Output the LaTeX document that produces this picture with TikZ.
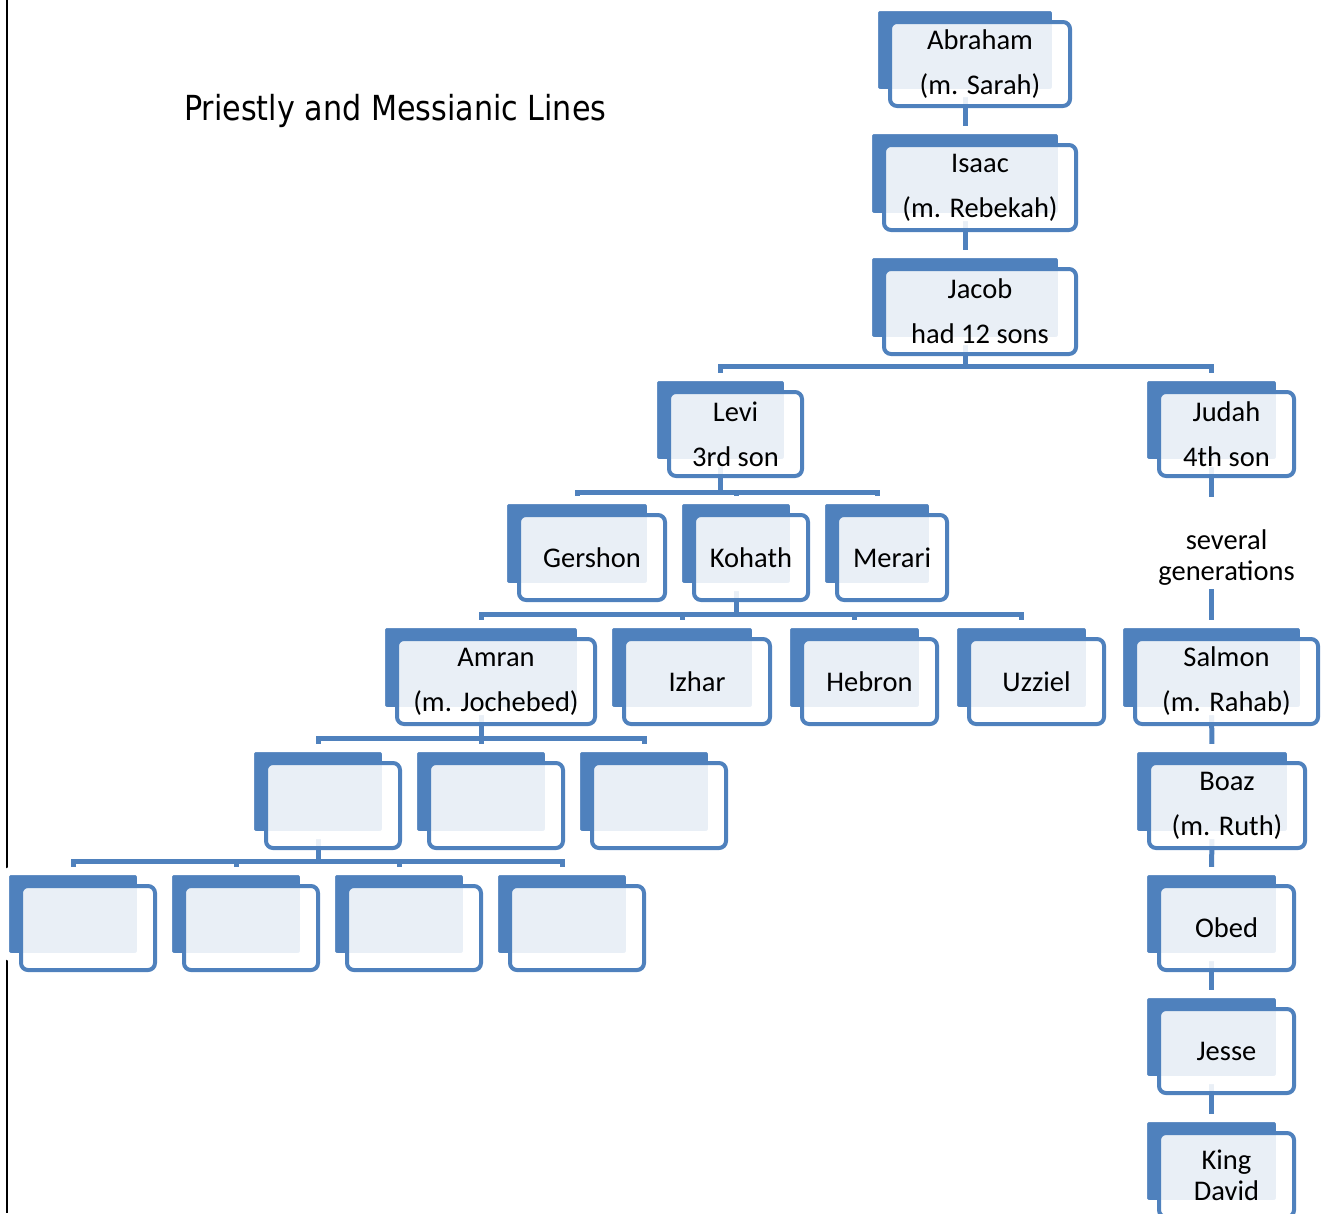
\documentclass[tikz,border=0pt]{standalone}
\usepackage{fontspec}
\setmainfont{Carlito}
\newfontfamily\titlefont{DejaVu Sans}
\usetikzlibrary{calc}
\definecolor{sblue}{HTML}{4F81BD}
\pgfdeclarelayer{bg}
\pgfsetlayers{bg,main}
\tikzset{
  backbox/.style={rectangle, rounded corners=6pt, fill=sblue, draw=white, line width=8pt, inner sep=0pt, outer sep=0pt},
  frontbox/.style={rectangle, rounded corners=7pt, fill=white, fill opacity=0.88, text opacity=1, draw=sblue, draw opacity=1, line width=4pt, inner sep=0pt, outer sep=0pt, align=center, font=\fontsize{28.5}{45}\selectfont},
  tightfont/.style={font=\fontsize{28.5}{31}\selectfont},
  conn/.style={draw=sblue, line width=5pt},
  borderline/.style={draw=black, line width=2.5pt},
}
% #1 extra style, #2 name, #3 x1, #4 y1, #5 x2, #6 y2 (outer edges of front box), #7 text
\newcommand\famnode[7][]{%
  \node[backbox, minimum width={#5-#3-2}, minimum height={#6-#4-2}] (#2b) at ({(#3+#5)/2-15},{(#4+#6)/2-14}) {};
  \node[frontbox, #1, minimum width={#5-#3-4}, minimum height={#6-#4-4}] (#2) at ({(#3+#5)/2},{(#4+#6)/2}) {#7};
}
\begin{document}
\begin{tikzpicture}[x=1pt,y=-1pt]
\useasboundingbox (0,0) rectangle (1324,1213);
\clip (0,0) rectangle (1324,1213);

\node[anchor=base west, inner sep=0pt] (title) at (184,120) {\titlefont\fontsize{34.5}{40}\selectfont\scalebox{0.875}[1]{Priestly and Messianic Lines}};

\famnode{abr}{888}{20}{1072}{108}{Abraham\\(m. Sarah)}
\famnode{isa}{882}{143}{1078}{232}{Isaac\\(m. Rebekah)}
\famnode{jac}{882}{267}{1078}{356}{Jacob\\had 12 sons}
\famnode{levi}{667}{390}{804}{478}{Levi\\3rd son}
\famnode{judah}{1157}{390}{1296}{478}{Judah\\4th son}
\famnode{ger}{517}{513}{667}{602}{Gershon}
\famnode{koh}{692}{513}{810}{602}{Kohath}
\famnode{mer}{835}{513}{949}{602}{Merari}
\famnode{amr}{395}{637}{597}{726}{Amran\\(m. Jochebed)}
\famnode{izh}{622}{637}{772}{726}{Izhar}
\famnode{heb}{800}{637}{939}{726}{Hebron}
\famnode{uzz}{967}{637}{1106}{726}{Uzziel}
\famnode{sal}{1133}{637}{1320}{726}{Salmon\\(m. Rahab)}
\famnode{ra}{264}{761}{402}{850}{}
\famnode{rb}{427}{761}{565}{850}{}
\famnode{rc}{590}{761}{728}{850}{}
\famnode{sa}{19}{884}{157}{972}{}
\famnode{sb}{182}{884}{320}{972}{}
\famnode{sc}{345}{884}{483}{972}{}
\famnode{sd}{508}{884}{646}{972}{}
\famnode{boaz}{1147}{761}{1307}{850}{Boaz\\(m. Ruth)}
\famnode{obed}{1157}{884}{1296}{972}{Obed}
\famnode{jesse}{1157}{1007}{1296}{1095}{Jesse}
\famnode[tightfont]{david}{1157}{1131}{1296}{1219}{King\\David}

\node[tightfont, align=center, inner sep=0pt] (gen) at (1226.5,558) {several\\generations};

\coordinate (b1) at (0,366);
\coordinate (b2) at (0,492);
\coordinate (b3) at (0,614);
\coordinate (b4) at (0,738);
\coordinate (b5) at (0,861);
\coordinate (g1) at (1211.5,497);
\coordinate (g2) at (1211.5,589);

\begin{pgfonlayer}{bg}
  \draw[borderline] (7,0) -- (7,1213);
  \draw[conn] (abrb.south) -- (isab.north);
  \draw[conn] (isab.south) -- (jacb.north);
  \draw[conn] (jacb.south) -- (jacb.south |- b1);
  \draw[conn] (levib.north) -- (levib.north |- b1) -- (judahb.north |- b1) -- (judahb.north);
  \draw[conn] (levib.south) -- (levib.south |- b2);
  \draw[conn] (gerb.north) -- (gerb.north |- b2) -- (merb.north |- b2) -- (merb.north);
  \draw[conn] (kohb.north) -- (kohb.north |- b2);
  \draw[conn] (kohb.south) -- (kohb.south |- b3);
  \draw[conn] (amrb.north) -- (amrb.north |- b3) -- (uzzb.north |- b3) -- (uzzb.north);
  \draw[conn] (izhb.north) -- (izhb.north |- b3);
  \draw[conn] (hebb.north) -- (hebb.north |- b3);
  \draw[conn] (amrb.south) -- (amrb.south |- b4);
  \draw[conn] (rab.north) -- (rab.north |- b4) -- (rcb.north |- b4) -- (rcb.north);
  \draw[conn] (rbb.north) -- (rbb.north |- b4);
  \draw[conn] (rab.south) -- (rab.south |- b5);
  \draw[conn] (sab.north) -- (sab.north |- b5) -- (sdb.north |- b5) -- (sdb.north);
  \draw[conn] (sbb.north) -- (sbb.north |- b5);
  \draw[conn] (scb.north) -- (scb.north |- b5);
  \draw[conn] (judahb.south) -- (g1);
  \draw[conn] (g2) -- (salb.north);
  \draw[conn] (salb.south) -- (boazb.north);
  \draw[conn] (boazb.south) -- (obedb.north);
  \draw[conn] (obedb.south) -- (jesseb.north);
  \draw[conn] (jesseb.south) -- (davidb.north);
\end{pgfonlayer}
\end{tikzpicture}
\end{document}
